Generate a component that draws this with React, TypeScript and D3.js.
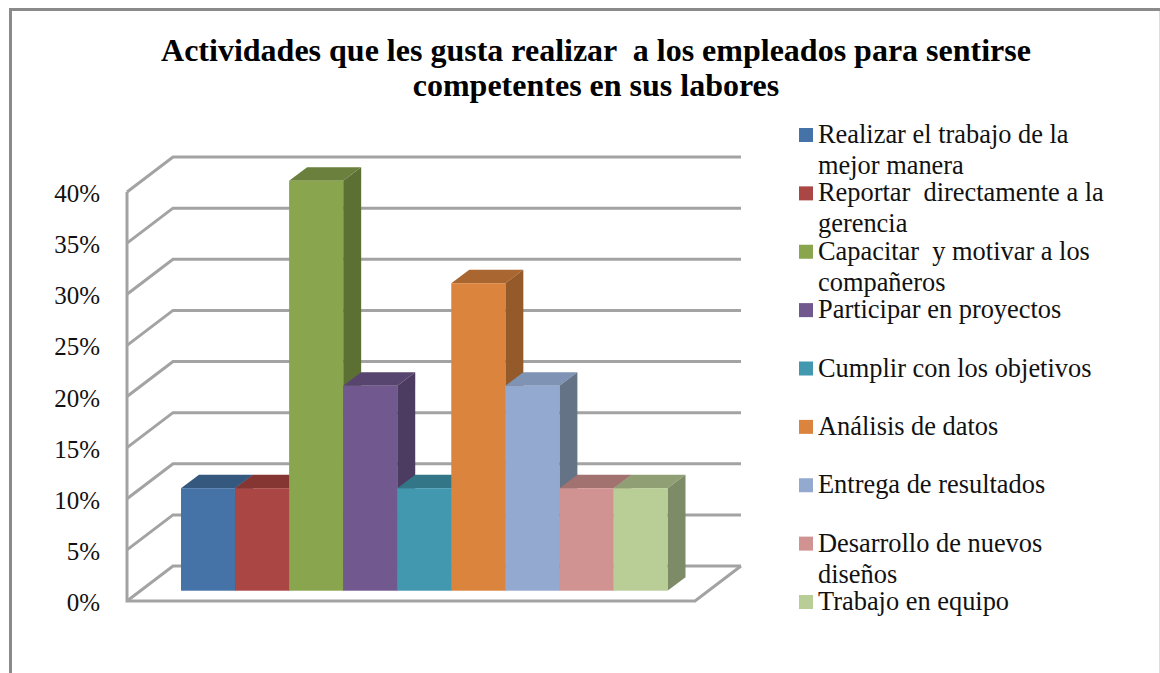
import React from 'react'
import { scaleBand, scaleLinear, scalePoint, line } from 'd3'

const titleLines = ['Actividades que les gusta realizar  a los empleados para sentirse', 'competentes en sus labores']
const categories = [
  'Realizar el trabajo de la mejor manera',
  'Reportar  directamente a la gerencia',
  'Capacitar  y motivar a los compañeros',
  'Participar en proyectos',
  'Cumplir con los objetivos',
  'Análisis de datos',
  'Entrega de resultados',
  'Desarrollo de nuevos diseños',
  'Trabajo en equipo',
]
const legendLines = [
  ['Realizar el trabajo de la', 'mejor manera'],
  ['Reportar  directamente a la', 'gerencia'],
  ['Capacitar  y motivar a los', 'compañeros'],
  ['Participar en proyectos'],
  ['Cumplir con los objetivos'],
  ['Análisis de datos'],
  ['Entrega de resultados'],
  ['Desarrollo de nuevos', 'diseños'],
  ['Trabajo en equipo'],
]
const values = [0.1, 0.1, 0.4, 0.2, 0.1, 0.3, 0.2, 0.1, 0.1]
const ticks = [0, 0.05, 0.1, 0.15, 0.2, 0.25, 0.3, 0.35, 0.4]
const frontColors = ['#4572a7', '#aa4643', '#89a54e', '#71588f', '#4198af', '#db843d', '#93a9cf', '#d19392', '#b9cd96']
const topColors = ['#35587f', '#853633', '#6b803c', '#58456f', '#327688', '#aa6630', '#7f93b4', '#a27271', '#909f74']
const sideColors = ['#2f4e72', '#75302d', '#5d7034', '#4d3c61', '#2c6778', '#955a29', '#647386', '#8e6463', '#7d8b66']

const FONT = '"Liberation Serif", serif'
const GRID = '#a3a3a3'

function App() {
  const y = scaleLinear().domain([0, 0.4]).range([601, 192])
  const yBar = scaleLinear().domain([0, 0.4]).range([590.7, 180.7])
  const x = scaleBand().domain(categories).range([181, 667.5])
  const legendY = scalePoint().domain(categories).range([128, 595])

  const wall = { dx: 46, dy: -35, left: 127, right: 695 }
  const barDepth = { dx: 18, dy: -13.5 }
  const path = line()

  return (
    <svg width={1160} height={673} style={{ position: 'absolute', left: 0, top: 0, background: '#fff' }} fontFamily={FONT}>
      {/* outer frame */}
      <path d={path([[1159.5, 10], [1159.5, 673]]) as string} fill="none" stroke="#dcdcdc" strokeWidth={1} />
      <path d={path([[10.5, 673], [10.5, 9.5], [1160, 9.5]]) as string} fill="none" stroke="#8a8a8a" strokeWidth={3} />

      {titleLines.map((t, i) => (
        <text key={i} x={596} y={61 + i * 35} textAnchor="middle" fontSize={32} fontWeight="bold" fill="#000" style={{ whiteSpace: 'pre' }}>
          {t}
        </text>
      ))}

      {/* walls and grid */}
      <g fill="none" stroke={GRID} strokeWidth={3}>
        <path d={path([[wall.left, y(0.4)], [wall.left, y(0)], [wall.right, y(0)], [wall.right + wall.dx, y(0) + wall.dy]]) as string} />
        {ticks.map(t => (
          <path
            key={t}
            d={path([
              [wall.left, y(t)],
              [wall.left + wall.dx, y(t) + wall.dy],
              [wall.right + wall.dx, y(t) + wall.dy],
            ]) as string}
          />
        ))}
      </g>

      {ticks.map(t => (
        <text key={t} x={100} y={y(t) + 10} textAnchor="end" fontSize={25} fill="#111">
          {Math.round(t * 100)}%
        </text>
      ))}

      {/* bars, left to right so each one covers the side of the previous */}
      {categories.map((c, i) => {
        const x0 = x(c) as number
        const x1 = x0 + x.bandwidth()
        const top = yBar(values[i])
        const base = yBar(0)
        const { dx, dy } = barDepth
        return (
          <g key={c}>
            <path fill={topColors[i]} d={path([[x0, top], [x0 + dx, top + dy], [x1 + dx, top + dy], [x1, top]]) + 'Z'} />
            <path fill={sideColors[i]} d={path([[x1, top], [x1 + dx, top + dy], [x1 + dx, base + dy], [x1, base]]) + 'Z'} />
            <rect x={x0} y={top} width={x.bandwidth()} height={base - top} fill={frontColors[i]} />
          </g>
        )
      })}

      {/* legend */}
      {categories.map((c, i) => {
        const ly = legendY(c) as number
        return (
          <g key={c}>
            <rect x={799} y={ly} width={14} height={14} fill={frontColors[i]} />
            {legendLines[i].map((t, j) => (
              <text key={j} x={818} y={ly + 15 + j * 31} fontSize={26.4} fill="#111" style={{ whiteSpace: 'pre' }}>
                {t}
              </text>
            ))}
          </g>
        )
      })}
    </svg>
  )
}

export default App
